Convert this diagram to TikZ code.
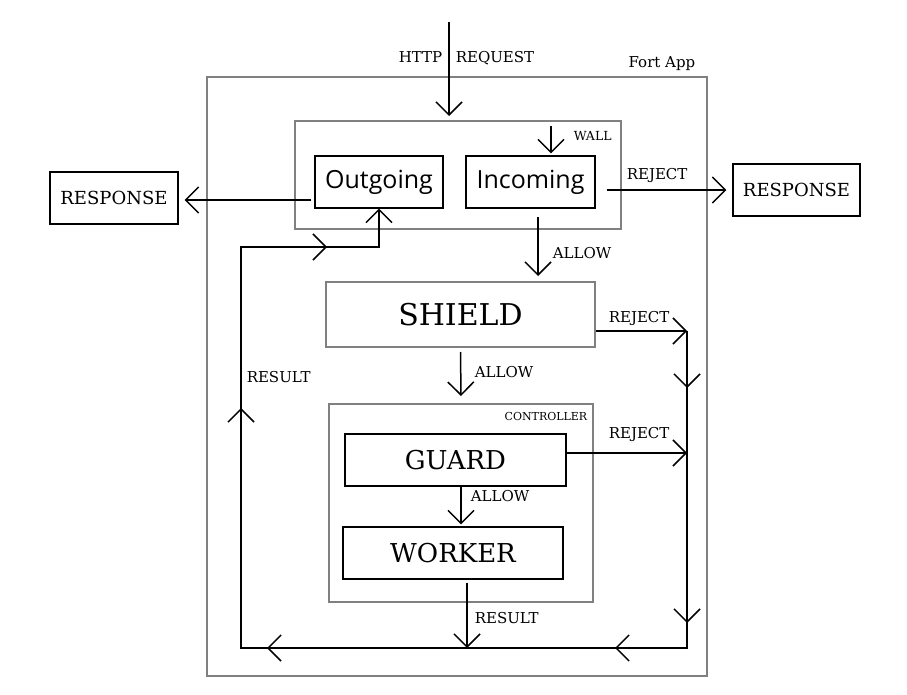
\documentclass[tikz,border=0pt]{standalone}
\usepackage{fontspec}
\setmainfont{DejaVu Serif}
\newfontfamily\uifont{Open Sans}
\usetikzlibrary{arrows.meta,decorations.markings}
\tikzset{%
  >={Straight Barb[length=13pt,width=26pt]},
  % Specifications for style of nodes:
            base/.style = {rectangle, draw=black, line width=1.2pt,
                           inner sep=0pt, text centered},
       graybox/.style = {base, draw=gray, line width=2pt},
       uibox/.style = {base, minimum height=52pt,
                           font=\uifont\fontsize{25}{30}\selectfont},
       respbox/.style = {base, minimum width=128pt, minimum height=52pt,
                           font=\fontsize{18}{22}\selectfont},
       bigbox/.style = {base, minimum width=221pt, minimum height=52pt,
                           font=\fontsize{26}{31}\selectfont},
       lbl/.style = {inner sep=0pt, font=\fontsize{15}{18}\selectfont},
       tinylbl/.style = {inner sep=0pt, font=\fontsize{11}{13}\selectfont},
}

\begin{document}
\begin{tikzpicture}[x=1pt, y=-1pt, line width=1.5pt]
  \useasboundingbox (0,0) rectangle (907,695);
  % Specification of nodes (position, etc.)
  
  \node (fortapp)			[graybox, minimum width=500pt, minimum height=599pt] at (457,376.5) {};
  \node (wall)				[graybox, minimum width=326pt, minimum height=108pt] at (458,175) {};
  \node (outgoing)			[uibox, minimum width=128pt] at (379,182) {Outgoing};
  \node (incoming)			[uibox, minimum width=129pt] at (530.5,182) {Incoming};
  \node (responsel)			[respbox] at (114,198) {RESPONSE};
  \node (responser)			[respbox, minimum width=127pt] at (796.5,190) {RESPONSE};
  \node (shield)			[graybox, minimum width=269pt, minimum height=65pt,
                              font=\fontsize{30}{36}\selectfont] at (460.5,314.5) {SHIELD};
  \node (controller)		[graybox, minimum width=264pt, minimum height=198pt] at (461,503) {};
  \node (guard)				[bigbox] at (455.5,460) {GUARD};
  \node (worker)			[bigbox, minimum width=220pt] at (453,553) {WORKER};
  
  % labels
  \node (fortlbl)			[lbl, anchor=base east] at (696,68) {Fort App};
  \node (httplbl)			[lbl, anchor=base east] at (443,63) {HTTP};
  \node (requestlbl)		[lbl, anchor=base west] at (455,63) {REQUEST};
  \node (walllbl)			[tinylbl, font=\fontsize{12.5}{15}\selectfont, anchor=base west] at (573,141) {WALL};
  \node (controllerlbl)		[tinylbl, anchor=base east] at (588,420) {CONTROLLER};
  \node (rejectwall)		[lbl, anchor=base west] at (626,179) {REJECT};
  \node (allowwall)			[lbl, anchor=base west] at (552,258) {ALLOW};
  \node (rejectshield)		[lbl, anchor=base west] at (608,322) {REJECT};
  \node (allowshield)		[lbl, anchor=base west] at (474,377) {ALLOW};
  \node (rejectguard)		[lbl, anchor=base west] at (608,438) {REJECT};
  \node (allowguard)		[lbl, anchor=base west] at (470,501) {ALLOW};
  \node (resultworker)		[lbl, anchor=base west] at (474,623) {RESULT};
  \node (resultloop)		[lbl, anchor=base west] at (246,382) {RESULT};
  
  \coordinate (request)		at (449,22);
  \coordinate (wallin)		at (551,126);
  \coordinate (passwall)	at (538,217);
  \coordinate (rejtop)		at (687,331);
  \coordinate (rejmid)		at (687,453);
  \coordinate (rejbot)		at (687,648);
  \coordinate (resjoin)		at (467,648);
  \coordinate (resbot)		at (241,648);
  \coordinate (restop)		at (241,247);
  \coordinate (resturn)		at (379,247);
  
  \draw[->]					(request) -- ([yshift=4pt]wall.north -| request);
  \draw[->]					(wallin) -- ([yshift=2pt]incoming.north -| wallin);
  \draw[->]					([xshift=11pt]incoming.east |- responser) -- ([xshift=-6pt]responser.west);
  \draw[->]					([xshift=-3pt]outgoing.west |- 0,200) -- ([xshift=6pt]responsel.east |- 0,200);
  \draw[->]					(passwall) -- ([yshift=5pt]shield.north -| passwall);
  \draw[->]					(shield.east |- rejtop) -- (rejtop);
  \draw[->]					([yshift=-4pt]shield.south) -- ([yshift=7pt]controller.north);
  \draw[->]					(guard.east |- rejmid) -- (rejmid);
  \draw[->]					([xshift=5.5pt]guard.south) -- ([xshift=8pt,yshift=2pt]worker.north);
  \draw[->]					([yshift=-3pt]worker.south -| resjoin) -- (resjoin);
  \draw[->, postaction={decorate}, decoration={markings,
      mark=at position 57pt with {\arrow{>}},
      mark=at position 292pt with {\arrow{>}},
      mark=at position 389pt with {\arrow{>}},
      mark=at position 737pt with {\arrow{>}},
      mark=at position 1003pt with {\arrow{>}},
      mark=at position 1250pt with {\arrow{>}}}]
                            (rejtop) -- (rejbot) -- (resbot) -- (restop) -- (resturn) -- (outgoing.south);

\end{tikzpicture}
\end{document}
